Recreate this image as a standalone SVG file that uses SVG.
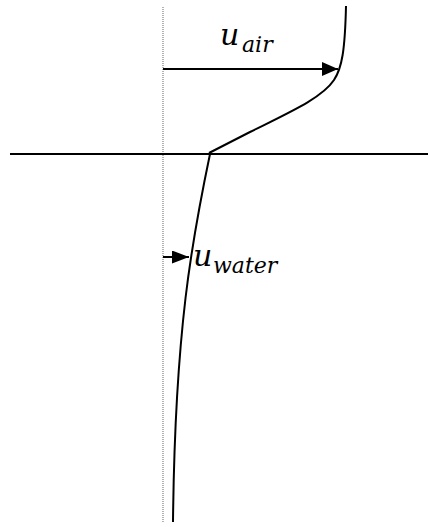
<svg xmlns="http://www.w3.org/2000/svg" width="428" height="527" viewBox="0 0 428 527">
<style>
.ref{stroke:#666;stroke-width:1;stroke-dasharray:1 1;fill:none}
.ln{stroke:#000;stroke-width:2;fill:none}
.math{font-family:"DejaVu Serif",serif;font-style:italic;fill:#000}
</style>
<defs>
<marker id="ah" markerWidth="16" markerHeight="14" refX="16" refY="7" orient="auto" markerUnits="userSpaceOnUse">
<path d="M0,0 L16,7 L0,14 Z" fill="#000"/>
</marker>
<marker id="ahs" markerWidth="17" markerHeight="13" refX="17" refY="6.5" orient="auto" markerUnits="userSpaceOnUse">
<path d="M0,0 L17,6.5 L0,13 Z" fill="#000"/>
</marker>
</defs>
<rect width="428" height="527" fill="#fff"/>
<g id="reference-line"><line class="ref" x1="163" y1="7" x2="163" y2="522"/></g>
<g id="surface"><line class="ln" x1="10" y1="154" x2="428" y2="154"/></g>
<g id="air-profile"><path class="ln" d="M346,6 C345,50 342,68 334,80 C322,98 290,112 250,132 L209,153"/></g>
<g id="water-profile"><path class="ln" d="M210,154 C192,240 175,330 173,522"/></g>
<g id="connectors">
<line class="ln" x1="163" y1="69" x2="338" y2="69" marker-end="url(#ah)"/>
<line class="ln" x1="163" y1="257" x2="189" y2="257" marker-end="url(#ahs)"/>
</g>
<g id="label-air"><text class="math" x="220" y="45" font-size="30">u<tspan x="242" y="52" font-size="22">air</tspan></text></g>
<g id="label-water"><text class="math" x="193" y="266" font-size="30">u<tspan x="213" y="273" font-size="22">water</tspan></text></g>
</svg>
